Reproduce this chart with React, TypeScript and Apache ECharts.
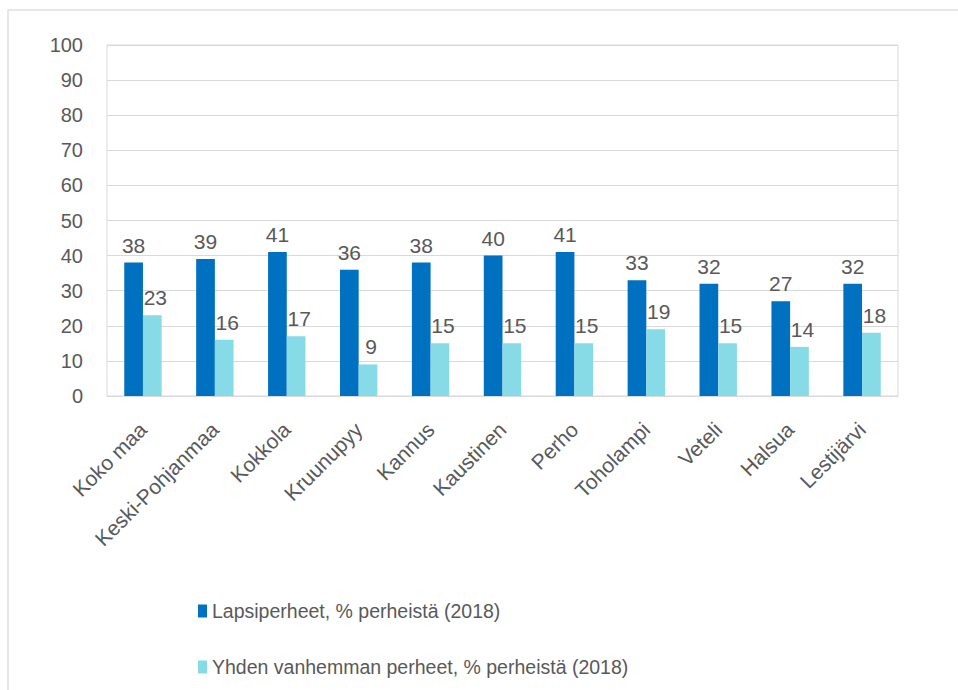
import React, { useEffect, useRef } from "react";
import * as echarts from "echarts";

const categories = [
  "Koko maa",
  "Keski-Pohjanmaa",
  "Kokkola",
  "Kruunupyy",
  "Kannus",
  "Kaustinen",
  "Perho",
  "Toholampi",
  "Veteli",
  "Halsua",
  "Lestijärvi",
];
const lapsiperheet = [38, 39, 41, 36, 38, 40, 41, 33, 32, 27, 32];
const yhdenVanhemman = [23, 16, 17, 9, 15, 15, 15, 19, 15, 14, 18];
const seriesNames = [
  "Lapsiperheet, % perheistä (2018)",
  "Yhden vanhemman perheet, % perheistä (2018)",
];

const FONT = "'Liberation Sans', Arial, sans-serif";
const TXT = "#595959";
const GRID = "#d9d9d9";

export default function App() {
  const ref = useRef<HTMLDivElement>(null);
  useEffect(() => {
    if (!ref.current) return;
    const chart = echarts.init(ref.current, null, { renderer: "svg" });
    chart.setOption({
      animation: false,
      backgroundColor: "#ffffff",
      textStyle: { fontFamily: FONT },
      graphic: [
        {
          type: "rect",
          shape: { x: 8, y: 10, width: 960, height: 700 },
          style: { fill: "none", stroke: "#e0e0e0", lineWidth: 1.5 },
          silent: true,
        },
      ],
      grid: {
        left: 107,
        right: 60,
        top: 45,
        bottom: 294,
        show: true,
        borderColor: GRID,
        borderWidth: 1,
        containLabel: false,
      },
      legend: {
        orient: "vertical",
        left: 193,
        top: 596,
        icon: "rect",
        itemWidth: 9,
        itemHeight: 13,
        itemGap: 36,
        textStyle: { fontSize: 19.5, color: TXT, fontFamily: FONT },
        data: seriesNames,
      },
      xAxis: {
        type: "category",
        data: categories,
        axisLine: { show: true, lineStyle: { color: GRID, width: 1 } },
        axisTick: { show: false },
        axisLabel: {
          rotate: 45,
          interval: 0,
          margin: 30,
          fontSize: 21,
          color: TXT,
          fontFamily: FONT,
        },
      },
      yAxis: {
        type: "value",
        min: 0,
        max: 100,
        interval: 10,
        axisLine: { show: false },
        axisTick: { show: false },
        splitLine: { show: true, lineStyle: { color: GRID, width: 1 } },
        axisLabel: { fontSize: 20, color: TXT, margin: 24, fontFamily: FONT },
      },
      series: [
        {
          name: seriesNames[0],
          type: "bar",
          data: lapsiperheet,
          barWidth: "26%",
          barGap: "0%",
          itemStyle: { color: "#0070C0" },
          label: {
            show: true,
            position: "top",
            distance: 7,
            fontSize: 21,
            color: TXT,
            fontFamily: FONT,
          },
        },
        {
          name: seriesNames[1],
          type: "bar",
          data: yhdenVanhemman,
          barWidth: "26%",
          barGap: "0%",
          itemStyle: { color: "#87DBE6" },
          label: {
            show: true,
            position: "top",
            distance: 7,
            offset: [3, 0],
            fontSize: 21,
            color: TXT,
            fontFamily: FONT,
          },
        },
      ],
    });
    return () => chart.dispose();
  }, []);
  return (
    <div
      ref={ref}
      style={{ position: "fixed", left: 0, top: 0, width: 958, height: 690 }}
    />
  );
}
